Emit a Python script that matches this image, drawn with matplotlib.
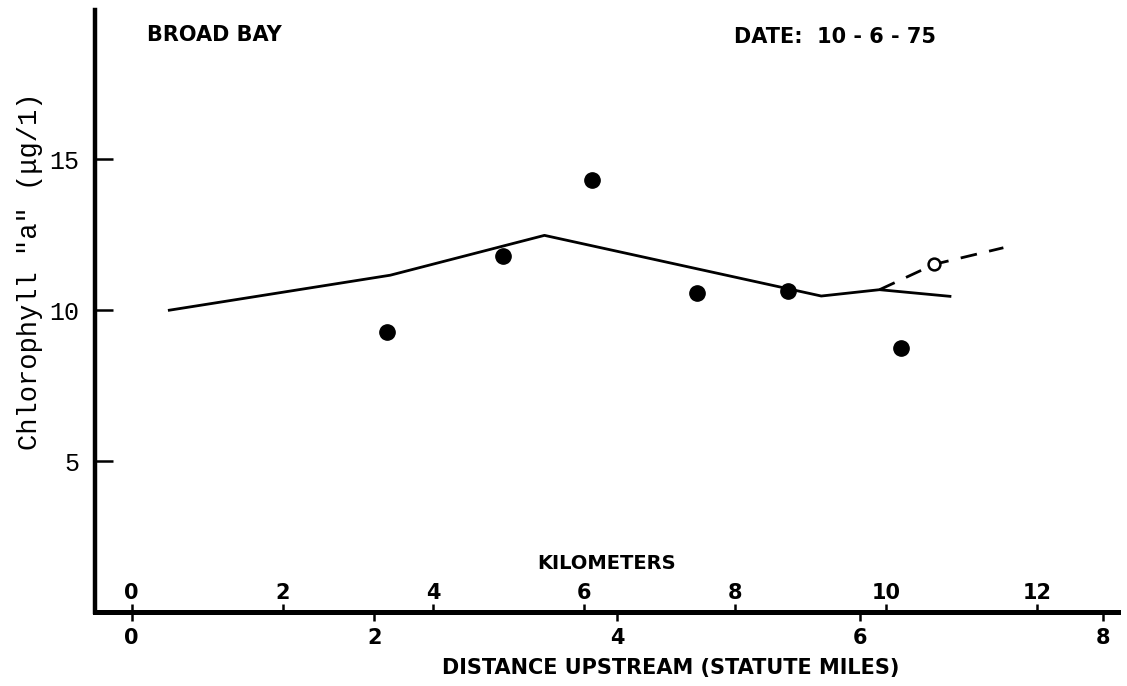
import matplotlib
matplotlib.use('Agg')
import matplotlib.pyplot as plt

# field stations: statute miles upstream vs chlorophyll "a" (ug/l)
obs_miles = [2.10, 3.06, 3.79, 4.66, 5.41, 6.34]
obs_chl = [9.28, 11.78, 14.33, 10.57, 10.63, 8.76]

# solid curve
curve_miles = [0.31, 2.13, 3.40, 5.68, 6.16, 6.74]
curve_chl = [10.0, 11.16, 12.48, 10.47, 10.68, 10.46]

# dashed branch and its open circle
branch_miles = [6.16, 6.61, 7.18]
branch_chl = [10.68, 11.52, 12.07]
open_miles = [6.61]
open_chl = [11.52]

mile_ticks = [0, 2, 4, 6, 8]
km_ticks = [0, 2, 4, 6, 8, 10, 12]
y_ticks = [5, 10, 15]
KM_PER_MILE = 1.609

plt.rcParams['font.family'] = ['DejaVu Sans']

fig = plt.figure(figsize=(11.27, 6.86), dpi=100)
ax = fig.add_axes([0.0843, 0.1079, 0.9077, 0.8776])

ax.plot(curve_miles, curve_chl, color='black', lw=2.0)
ax.plot(branch_miles, branch_chl, color='black', lw=2.0, ls=(0, (6, 4.5)))
ax.plot(obs_miles, obs_chl, 'o', color='black', ms=11, ls='')
ax.plot(open_miles, open_chl, 'o', mfc='white', mec='black', mew=1.8, ms=8.5, ls='', zorder=4)

ax.set_xlim(-0.302, 8.124)
ax.set_ylim(0, 19.95)

for s in ['top', 'right']:
    ax.spines[s].set_visible(False)
ax.spines['left'].set_linewidth(3.2)
ax.spines['bottom'].set_linewidth(3.6)

ax.set_yticks(y_ticks, labels=[str(v) for v in y_ticks], family='Liberation Mono', fontsize=18)
ax.tick_params(axis='y', direction='in', length=13, width=1.8, pad=11)

ax.set_xticks(mile_ticks, labels=[str(v) for v in mile_ticks], fontweight='bold', fontsize=15)
ax.tick_params(axis='x', direction='out', length=6.5, width=1.8, pad=5)

secax = ax.secondary_xaxis(0.0, functions=(lambda m: m * KM_PER_MILE, lambda k: k / KM_PER_MILE))
secax.set_alignment('top')
for s in secax.spines.values():
    s.set_visible(False)
secax.set_xticks(km_ticks, labels=[str(v) for v in km_ticks], fontweight='bold', fontsize=15)
secax.tick_params(axis='x', direction='out', length=6, width=1.8, pad=0.5)
secax.set_xlabel('KILOMETERS', fontweight='bold', fontsize=14, labelpad=10)

ax.set_xlabel('DISTANCE UPSTREAM (STATUTE MILES)', fontweight='bold', fontsize=15)
ax.xaxis.set_label_coords(0.563, -0.077)
ax.set_ylabel('Chlorophyll "a" (\u03bcg/1)', family='Liberation Mono', fontsize=19.5)
ax.yaxis.set_label_coords(-0.051, 0.566)

ax.text(0.117, 0.958, 'BROAD BAY', transform=ax.transAxes, ha='center', va='center',
        fontweight='bold', fontsize=15)
ax.text(0.723, 0.955, 'DATE:  10 - 6 - 75', transform=ax.transAxes, ha='center', va='center',
        fontweight='bold', fontsize=15)

fig.savefig('out.png', dpi=100, facecolor='white')
